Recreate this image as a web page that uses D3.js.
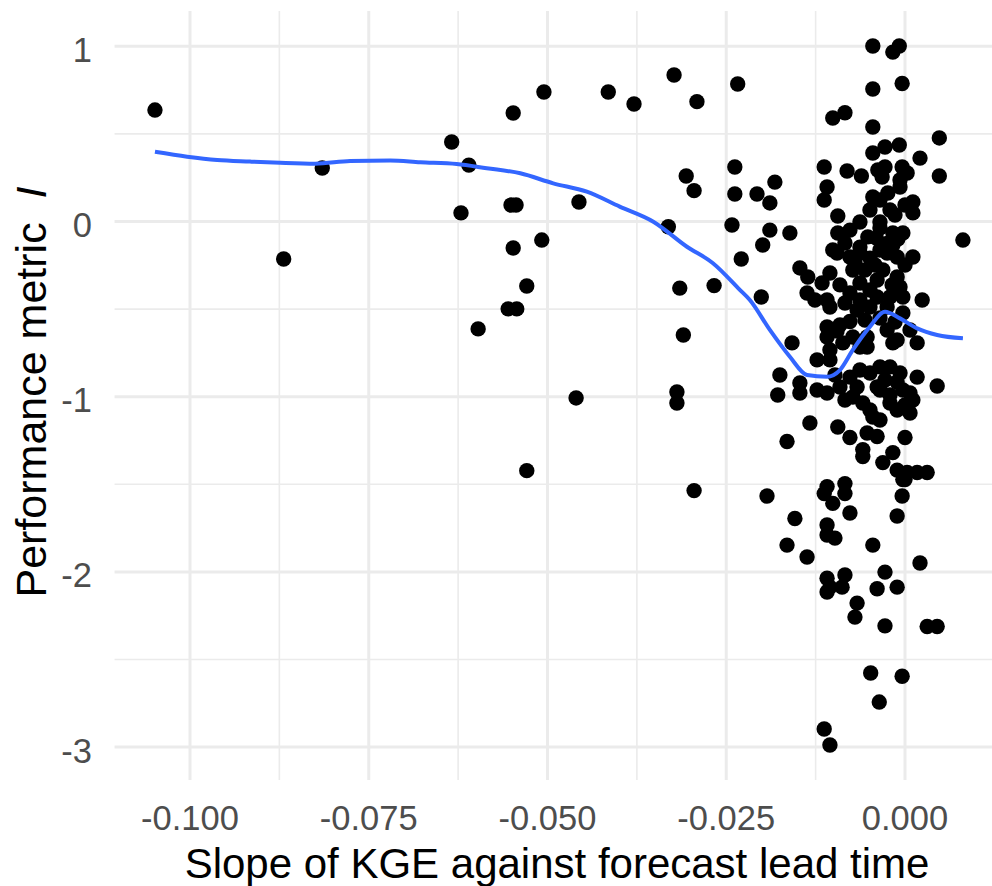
<!DOCTYPE html>
<html>
<head>
<meta charset="utf-8">
<script src="https://cdn.jsdelivr.net/npm/d3@7"></script>
<style>
  html, body { margin: 0; padding: 0; background: #ffffff; }
  svg { display: block; }
  text { font-family: "Liberation Sans", Arial, Helvetica, sans-serif; }
</style>
</head>
<body>
<svg id="chart" width="992" height="886"></svg>
<script>
// Per-catchment slope of KGE against lead time (x) and performance metric I (y)
const slopeKGE = [
  -0.1049, -0.0869, -0.0815, -0.0634, -0.0621, -0.0610, -0.0548, -0.0505, -0.0551, -0.0544,
  -0.0548, -0.0508, -0.0529, -0.0456, -0.0415, -0.0379, -0.0323, -0.0291, -0.0234, -0.0331,
  -0.0306, -0.0295, -0.0315, -0.0267, -0.0238, -0.0238, -0.0207, -0.0242, -0.0229, -0.0201,
  -0.0555, -0.0543, -0.0597, -0.0460, -0.0529, -0.0310, -0.0319, -0.0319, -0.0295, -0.0193,
   0.0081,  0.0048,  0.0048, -0.0199,
  -0.0045, -0.0017, -0.0008, -0.0004, -0.0045, -0.0101, -0.0084, -0.0045, -0.0045, -0.0028,
  -0.0008,  0.0021, -0.0113, -0.0081, -0.0061, -0.0038, -0.0028, -0.0032, -0.0004,  0.0003,
  -0.0007, -0.0182, -0.0189, -0.0109, -0.0113, -0.0045, -0.0049, -0.0024, -0.0007,  0.0011,
   0.0011, -0.0094, -0.0021, -0.0189, -0.0161, -0.0094, -0.0035, -0.0017, -0.0003, -0.0040,
  -0.0025, -0.0010, -0.0101, -0.0063,  0.0011,
  -0.0147, -0.0136, -0.0105, -0.0095, -0.0077, -0.0063, -0.0049, -0.0025, -0.0011, -0.0137,
  -0.0109, -0.0105, -0.0073, -0.0063, -0.0077, -0.0063, -0.0067, -0.0039, -0.0031, -0.0011,
  -0.0007, -0.0003, -0.0021, -0.0039, -0.0049, -0.0025, -0.0003,  0.0024, -0.0109, -0.0091,
  -0.0077, -0.0109, -0.0105, -0.0087, -0.0073, -0.0095, -0.0053, -0.0053, -0.0063, -0.0025,
  -0.0011, -0.0017,  0.0017, -0.0158, -0.0123, -0.0105, -0.0175, -0.0178, -0.0147, -0.0147,
  -0.0123, -0.0109, -0.0091, -0.0077, -0.0067, -0.0073, -0.0059, -0.0049, -0.0045, -0.0049,
  -0.0035, -0.0021, -0.0007, -0.0011, -0.0039, -0.0035,  0.0017,  0.0045, -0.0021, -0.0011,
  -0.0003,  0.0007,  0.0011,  0.0007, -0.0133, -0.0165, -0.0094, -0.0077, -0.0059, -0.0053,
  -0.0039, -0.0059,  0.0000, -0.0031, -0.0017, -0.0011,  0.0003,  0.0017,  0.0031, -0.0003,
  -0.0109, -0.0084,
  -0.0113, -0.0101, -0.0084, -0.0077,  0.0000, -0.0004, -0.0011, -0.0154, -0.0165, -0.0137,
  -0.0109, -0.0109, -0.0098, -0.0045,  0.0021, -0.0109, -0.0084, -0.0105, -0.0088, -0.0109,
  -0.0028, -0.0039, -0.0011, -0.0067, -0.0070, -0.0028,  0.0031,  0.0045, -0.0048, -0.0004,
  -0.0036, -0.0113, -0.0105,
  -0.0084, -0.0070, -0.0056, -0.0042, -0.0035, -0.0017,  0.0000, -0.0018, -0.0049, -0.0091,
  -0.0116, -0.0126, -0.0084, -0.0035, -0.0014, -0.0056,  0.0007, -0.0035, -0.0014, -0.0035,
  -0.0063,  0.0000, -0.0052, -0.0077, -0.0063, -0.0028, -0.0098, -0.0084, -0.0021,  0.0000,
  -0.0035
];
const perfI = [
   0.636, -0.214,  0.305,  0.454,  0.049,  0.322,  0.619,  0.739,  0.094,  0.094,
  -0.151, -0.106, -0.368,  0.111,  0.739,  0.671,  0.836,  0.684,  0.785, -0.030,
   0.260,  0.176, -0.380, -0.366,  0.311,  0.157,  0.157, -0.020, -0.214, -0.431,
  -0.499, -0.499, -0.613, -1.007, -1.422, -0.648, -0.973, -1.036, -1.536, -1.567,
  -0.106,  0.477,  0.260, -0.134,
   1.002,  0.967,  1.002,  0.788,  0.756,  0.591,  0.621,  0.539,  0.391,  0.425,
   0.437,  0.362,  0.311,  0.288,  0.260,  0.294,  0.311,  0.254,  0.311,  0.277,
   0.237,  0.225,  0.106,  0.197,  0.123,  0.140,  0.066,  0.163,  0.197,  0.111,
   0.049,  0.031,  0.066, -0.049, -0.066, -0.066, -0.037, -0.066, -0.066, -0.095,
  -0.125, -0.100, -0.163, -0.146, -0.203,
  -0.265, -0.317, -0.294, -0.180, -0.203, -0.180, -0.209, -0.180, -0.203, -0.408,
  -0.448, -0.488, -0.277, -0.351, -0.408, -0.448, -0.505, -0.334, -0.277, -0.317,
  -0.374, -0.431, -0.431, -0.431, -0.488, -0.488, -0.522, -0.448, -0.602, -0.590,
  -0.571, -0.659, -0.733, -0.693, -0.659, -0.625, -0.659, -0.716, -0.716, -0.619,
  -0.676, -0.693, -0.693, -0.693, -0.790, -0.790, -0.876, -0.990, -0.922, -0.979,
  -0.962, -0.979, -0.945, -0.888, -0.945, -1.002, -1.036, -1.076, -1.116, -0.865,
  -0.830, -0.830, -0.865, -0.916, -0.945, -0.962, -0.888, -0.939, -1.036, -1.076,
  -0.962, -0.979, -1.019, -1.093, -1.150, -1.256, -1.173, -1.233, -1.302, -1.207,
  -1.227, -1.342, -1.233, -1.376, -1.319, -1.419, -1.433, -1.433, -1.433, -1.473,
  -1.513, -1.496,
  -1.553, -1.609, -1.553, -1.664, -1.473, -1.567, -1.681, -1.695, -1.847, -1.915,
  -1.732, -1.789, -1.807, -1.847, -1.949, -2.036, -2.018, -2.087, -2.087, -2.115,
  -2.001, -2.096, -2.087, -2.178, -2.258, -2.308, -2.312, -2.312, -2.577, -2.596,
  -2.743, -2.897, -2.988,
  -0.123, -0.231, -0.277, -0.248, -0.163, -0.134, -0.248, -0.362, -0.391, -0.362,
  -0.351, -0.448, -0.465, -0.551, -0.574, -0.562, -0.619,  0.123,  0.037, -0.003,
  -0.003,  0.094, -0.088, -0.049, -0.848, -0.905, -0.876, -1.019, -0.990, -1.047,
  -1.133
];

// Fitted loess curve
const smoothX = [
  -0.1049, -0.1004, -0.0962, -0.0916, -0.0874, -0.0825, -0.0776, -0.0720, -0.0678, -0.0627,
  -0.0585, -0.0538, -0.0492, -0.0445, -0.0399, -0.0352, -0.0305, -0.0269, -0.0231, -0.0217,
  -0.0189, -0.0161, -0.0137, -0.0109, -0.0091, -0.0073, -0.0049, -0.0028, -0.0007,  0.0017,
   0.0045,  0.0081
];
const smoothY = [
   0.398,  0.370,  0.351,  0.342,  0.335,  0.330,  0.345,  0.348,  0.338,  0.328,
   0.304,  0.275,  0.218,  0.170,  0.085, -0.001, -0.144, -0.237, -0.390, -0.448,
  -0.619, -0.772, -0.876, -0.886, -0.848, -0.733, -0.600, -0.515, -0.553, -0.610,
  -0.648, -0.667
];

const xTicks = [-0.1, -0.075, -0.05, -0.025, 0];
const xTickLabels = ["-0.100", "-0.075", "-0.050", "-0.025", "0.000"];
const xMinor = [-0.0875, -0.0625, -0.0375, -0.0125, 0.0125];
const yTicks = [1, 0, -1, -2, -3];
const yTickLabels = ["1", "0", "-1", "-2", "-3"];
const yMinor = [0.5, -0.5, -1.5, -2.5];

const svg = d3.select("#chart");

// Panel extends 5% beyond the data on every side
const xExt = d3.extent(slopeKGE), yExt = d3.extent(perfI);
const xPad = (xExt[1] - xExt[0]) * 0.05, yPad = (yExt[1] - yExt[0]) * 0.05;
const xDom = [xExt[0] - xPad, xExt[1] + xPad];
const yDom = [yExt[0] - yPad, yExt[1] + yPad];

const pxPerX = 7150, pxPerY = 175.2;
const x = d3.scaleLinear().domain(xDom)
  .range([905 + xDom[0] * pxPerX, 905 + xDom[1] * pxPerX]);
const y = d3.scaleLinear().domain(yDom)
  .range([221.5 - yDom[0] * pxPerY, 221.5 - yDom[1] * pxPerY]);

const [panelLeft, panelRight] = x.range();
const [panelBottom, panelTop] = y.range();

const grid = svg.append("g").attr("stroke", "#EBEBEB").attr("fill", "none");
grid.selectAll("line.ymin").data(yMinor).join("line")
  .attr("x1", panelLeft).attr("x2", panelRight).attr("y1", d => y(d)).attr("y2", d => y(d))
  .attr("stroke-width", 1.6);
grid.selectAll("line.xmin").data(xMinor).join("line")
  .attr("y1", panelTop).attr("y2", panelBottom).attr("x1", d => x(d)).attr("x2", d => x(d))
  .attr("stroke-width", 1.6);
grid.selectAll("line.ymaj").data(yTicks).join("line")
  .attr("x1", panelLeft).attr("x2", panelRight).attr("y1", d => y(d)).attr("y2", d => y(d))
  .attr("stroke-width", 3);
grid.selectAll("line.xmaj").data(xTicks).join("line")
  .attr("y1", panelTop).attr("y2", panelBottom).attr("x1", d => x(d)).attr("x2", d => x(d))
  .attr("stroke-width", 3);

// Scatter points
svg.append("g").selectAll("circle")
  .data(slopeKGE.map((v, i) => [v, perfI[i]]))
  .join("circle")
  .attr("cx", d => x(d[0]))
  .attr("cy", d => y(d[1]))
  .attr("r", 7.7)
  .attr("fill", "#000000");

// Loess smoother
const smoothLine = d3.line().x(d => x(d[0])).y(d => y(d[1])).curve(d3.curveMonotoneX);
svg.append("path")
  .datum(smoothX.map((v, i) => [v, smoothY[i]]))
  .attr("d", smoothLine)
  .attr("fill", "none")
  .attr("stroke", "#3366FF")
  .attr("stroke-width", 4)
  .attr("stroke-linejoin", "round");

// Axis tick labels
const tickSize = 34.5;
svg.append("g").selectAll("text")
  .data(xTicks).join("text")
  .attr("x", d => x(d))
  .attr("y", 830)
  .attr("text-anchor", "middle")
  .attr("font-size", tickSize)
  .attr("fill", "#4D4D4D")
  .text((d, i) => xTickLabels[i]);

svg.append("g").selectAll("text")
  .data(yTicks).join("text")
  .attr("x", 92)
  .attr("y", d => y(d) + 15.5)
  .attr("text-anchor", "end")
  .attr("font-size", tickSize)
  .attr("fill", "#4D4D4D")
  .text((d, i) => yTickLabels[i]);

// Axis titles
svg.append("text")
  .attr("x", 557)
  .attr("y", 878)
  .attr("text-anchor", "middle")
  .attr("font-size", 42)
  .attr("fill", "#000000")
  .text("Slope of KGE against forecast lead time");

const yTitle = svg.append("text")
  .attr("transform", "translate(46,392) rotate(-90)")
  .attr("text-anchor", "middle")
  .attr("font-size", 43)
  .attr("fill", "#000000");
yTitle.append("tspan").text("Performance metric\u00A0\u00A0");
yTitle.append("tspan").attr("font-style", "italic").text("I");
</script>
</body>
</html>
